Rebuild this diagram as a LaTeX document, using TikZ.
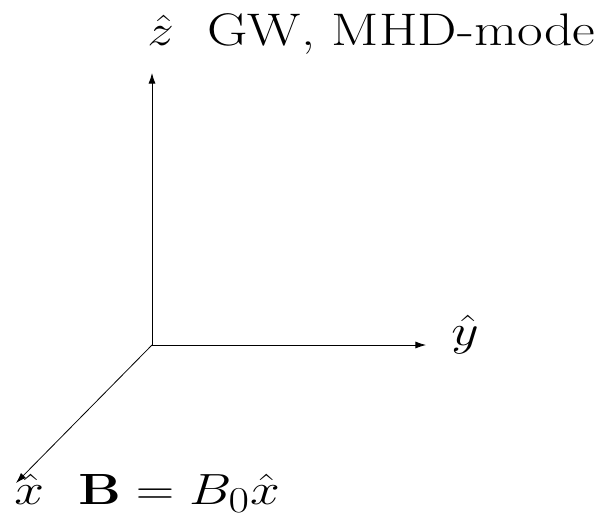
\documentclass[tikz,border=0pt]{standalone}
\usetikzlibrary{arrows.meta}
\newcommand{\wide}[1]{\scalebox{1.22}[1]{#1}}
\begin{document}
\begin{tikzpicture}[x=0.02cm,y=-0.02cm,
  axis/.style={line width=0.45pt,-{Latex[length=6pt,width=4pt]}},
  big/.style={font=\fontsize{26}{31}\selectfont,inner sep=0pt},
  bigger/.style={font=\fontsize{28}{33}\selectfont,inner sep=0pt}]
\useasboundingbox (0,0) rectangle (602,518);
\coordinate (O) at (152,345);
\coordinate (Z) at (152,73);
\coordinate (Y) at (426,345);
\coordinate (X) at (16,483);
\draw[axis] (O) -- (Z);
\draw[axis] (O) -- (Y);
\draw[axis] (O) -- (X);
\node[big,anchor=base west] (zl) at (147,45) {\wide{$\hat z$}};
\node[big,anchor=base west] (gw) at (207,45) {\wide{GW, MHD-mode}};
\node[bigger,anchor=base west] (yl) at (451,345) {\wide{$\hat y$}};
\node[bigger,anchor=base west] (xl) at (14,504) {\wide{$\hat x$}};
\node[bigger,anchor=base west] (bl) at (78,504) {\wide{$\mathbf{B}=B_0\hat x$}};
\end{tikzpicture}
\end{document}
